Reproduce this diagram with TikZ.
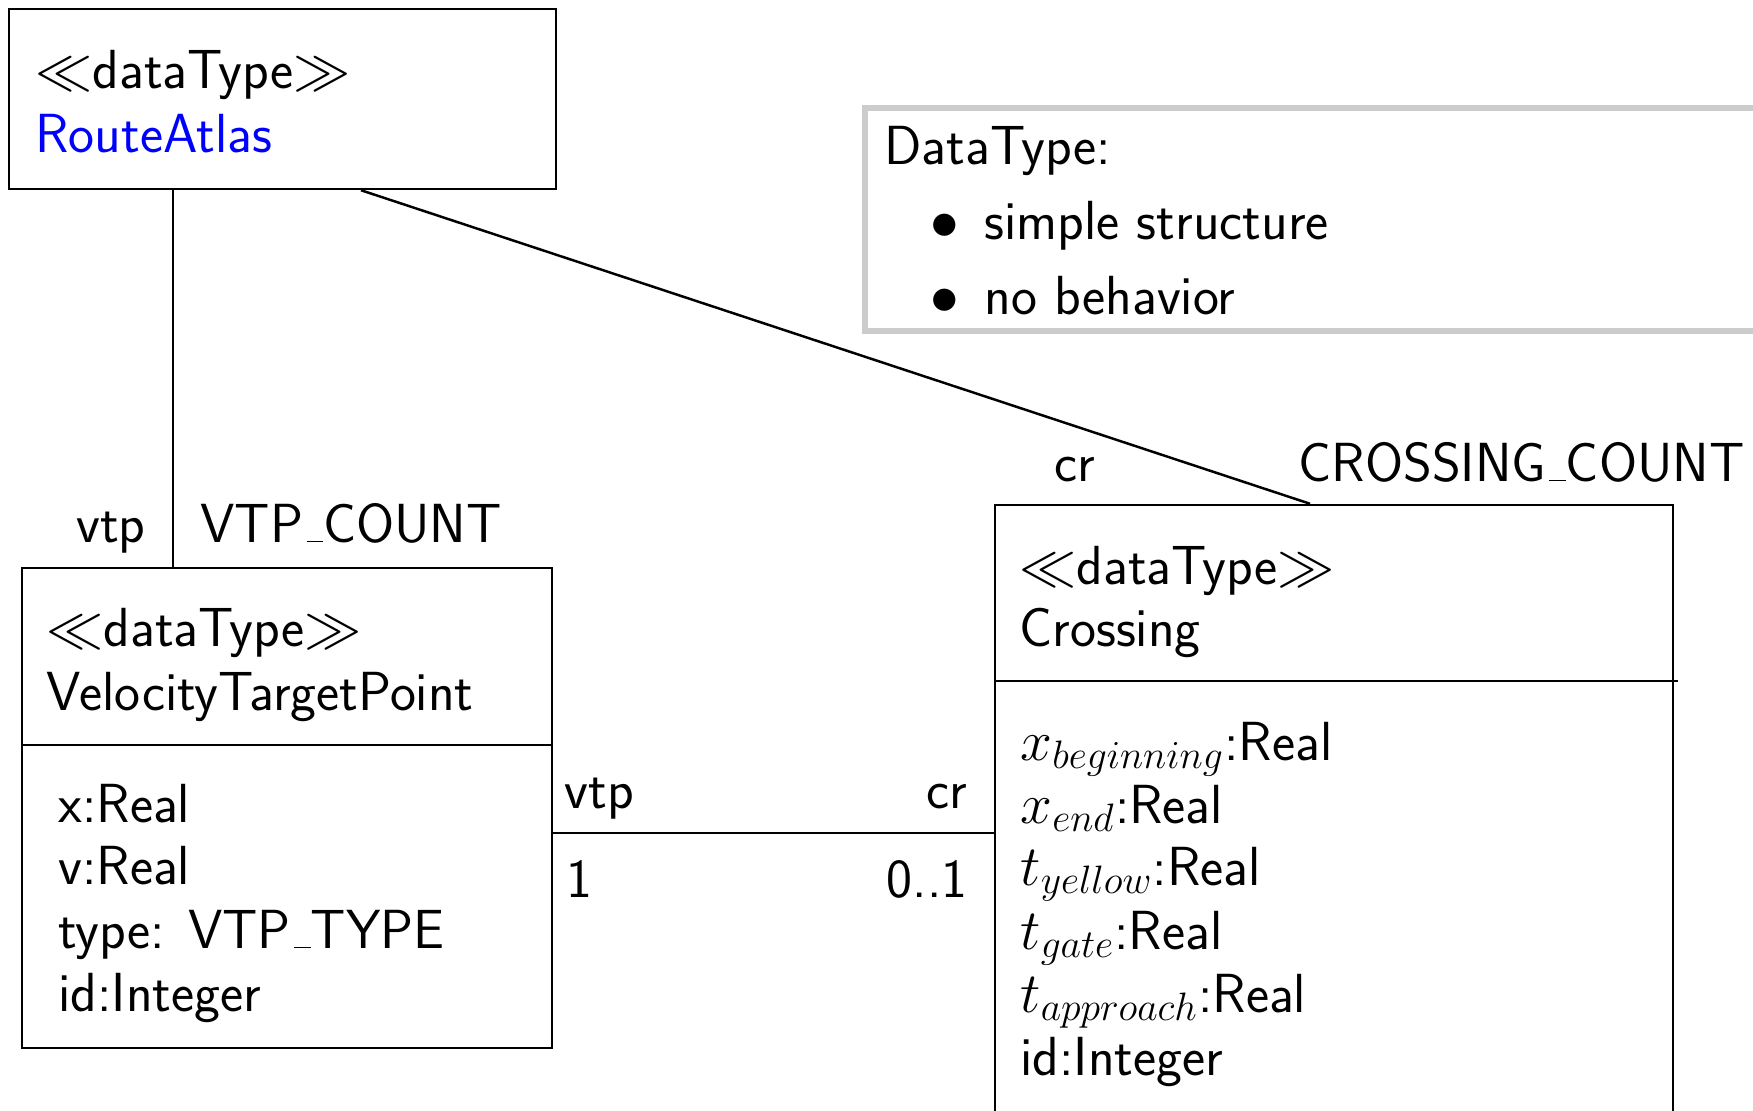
\documentclass[tikz,border=0pt]{standalone}
\usetikzlibrary{fit,calc}
\renewcommand{\familydefault}{\sfdefault}
% short underscore rule, as in the classic OT1 \_
\newcommand{\usc}{\leavevmode\kern.06em\vbox{\hrule width.3em}}
\newcommand{\bigtxt}{\sffamily\fontsize{20}{24}\selectfont}
\begin{document}
\begin{tikzpicture}[x=0.363pt,y=-0.363pt,
  umlbox/.style={draw, line width=0.9pt, inner sep=0pt, rectangle},
  notebox/.style={draw=black!20, line width=2.1pt, inner sep=0pt, rectangle},
  txt/.style={anchor=base west, inner sep=0pt, font=\bigtxt},
  txtr/.style={anchor=base east, inner sep=0pt, font=\bigtxt},
  dot/.style={anchor=base, inner sep=0pt, font=\bigtxt},
  conn/.style={line width=0.9pt}]
\useasboundingbox (0,0) rectangle (1753,1110);

% class boxes
\coordinate (ra-nw) at (9,9);      \coordinate (ra-se) at (556,189);
\coordinate (vtp-nw) at (22,568);  \coordinate (vtp-se) at (552,1048);
\coordinate (cr-nw) at (995,505);  \coordinate (cr-se) at (1673,1150);
\coordinate (nt-nw) at (865,108);  \coordinate (nt-se) at (1800,331);
\node[umlbox, fit=(ra-nw)(ra-se)] (ra) {};
\node[umlbox, fit=(vtp-nw)(vtp-se)] (vtp) {};
\node[umlbox, fit=(cr-nw)(cr-se)] (cr) {};
\node[notebox, fit=(nt-nw)(nt-se)] (note) {};

% compartment dividers
\draw[conn] (vtp.west |- 0,745) -- (vtp.east |- 0,745);
\draw[conn] (cr.west |- 0,681) -- ($(cr.east |- 0,681)+(4,0)$);

% RouteAtlas
\node[txt] (ra-st) at (35,89) {$\ll$dataType$\gg$};
\node[txt, text=blue] (ra-name) at (35,153) {RouteAtlas};

% VelocityTargetPoint
\node[txt] (vtp-st) at (46,646) {$\ll$dataType$\gg$};
\node[txt] (vtp-name) at (46,710) {VelocityTargetPoint};
\node[txt] (vtp-a1) at (58,822) {x:Real};
\node[txt] (vtp-a2) at (58,884) {v:Real};
\node[txt] (vtp-a3) at (58,948) {type: VTP\usc TYPE};
\node[txt] (vtp-a4) at (58,1011) {id:Integer};

% Crossing
\node[txt] (cr-st) at (1019,584) {$\ll$dataType$\gg$};
\node[txt] (cr-name) at (1019,646) {Crossing};
\node[txt] (cr-a1) at (1020,760) {$x_{beginning}$:Real};
\node[txt] (cr-a2) at (1020,823) {$x_{end}$:Real};
\node[txt] (cr-a3) at (1020,885) {$t_{yellow}$:Real};
\node[txt] (cr-a4) at (1020,949) {$t_{gate}$:Real};
\node[txt] (cr-a5) at (1020,1012) {$t_{approach}$:Real};
\node[txt] (cr-a6) at (1020,1075) {id:Integer};

% note
\node[txt] (nt-head) at (884,165) {DataType:};
\node[dot] (nt-b1) at (945,240) {$\bullet$};
\node[txt] (nt-i1) at (984,240) {simple structure};
\node[dot] (nt-b2) at (945,314) {$\bullet$};
\node[txt] (nt-i2) at (984,314) {no behavior};

% associations
\draw[conn] (173,0 |- ra.south) -- (173,0 |- vtp.north);
\draw[conn] (361,0 |- ra.south) -- (1310,0 |- cr.north);
\draw[conn] (vtp.east |- 0,833) -- (cr.west |- 0,833);

% association end labels
\node[txtr] (l-vtp1) at (146,542) {vtp};
\node[txt] (l-vtpc) at (200,542) {VTP\usc COUNT};
\node[txt] (l-cr1) at (1054,481) {cr};
\node[txt] (l-crc) at (1298,481) {CROSSING\usc COUNT};
\node[txt] (l-vtp2) at (564,808) {vtp};
\node[txtr] (l-cr2) at (968,808) {cr};
\node[txt] (l-m1) at (566,897) {1};
\node[txtr] (l-m2) at (968,897) {0..1};
\end{tikzpicture}
\end{document}
